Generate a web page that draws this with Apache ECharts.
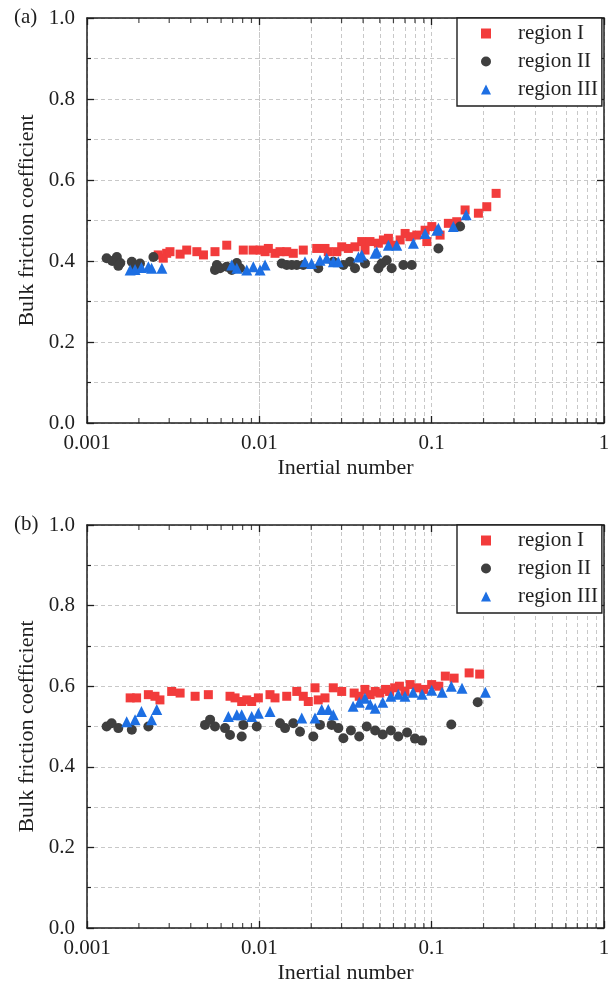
<!DOCTYPE html>
<html><head><meta charset="utf-8">
<script src="https://cdn.jsdelivr.net/npm/echarts@6/dist/echarts.min.js"></script>
<style>html,body{margin:0;padding:0;background:#fff}#c{width:613px;height:987px}</style>
</head><body><div id="c"></div>
<script>
const seriesNames = ['region I', 'region II', 'region III'];
const panelLabels = ['(a)', '(b)'];
const xTickLabels = ['0.001', '0.01', '0.1', '1'];
const yTickLabels = ['0.0', '0.2', '0.4', '0.6', '0.8', '1.0'];
const xAxisTitle = 'Inertial number';
const yAxisTitle = 'Bulk friction coefficient';

// panel (a)
const a_region1 = [[0.00259,0.415],[0.00277,0.407],[0.0029,0.419],[0.00303,0.423],[0.00347,0.417],[0.00379,0.427],[0.00434,0.423],[0.00474,0.415],[0.00553,0.423],[0.00647,0.439],[0.00807,0.427],[0.0092,0.427],
  [0.0101,0.427],[0.0108,0.423],[0.01128,0.431],[0.01233,0.419],[0.01318,0.423],[0.01442,0.423],[0.01574,0.419],[0.01799,0.427],[0.02153,0.431],[0.02405,0.431],[0.02512,0.423],[0.02812,0.423],[0.03006,0.435],[0.03286,0.431],[0.0359,0.435],[0.03926,0.448],[0.04104,0.427],[0.04385,0.448],[0.04906,0.444],[0.05247,0.452],[0.05611,0.456],[0.05998,0.439],[0.06561,0.452],[0.07015,0.468],[0.07499,0.46],[0.08198,0.464],[0.09162,0.476],[0.09374,0.448],[0.1002,0.485],[0.1119,0.464],[0.125,0.493],[0.1398,0.497],[0.1563,0.526],[0.1867,0.518],[0.2088,0.534],[0.2366,0.567]];
const a_region2 = [[0.0013,0.407],[0.0014,0.4],[0.00149,0.41],[0.00156,0.395],[0.00152,0.388],[0.00182,0.398],[0.0019,0.386],[0.00203,0.394],[0.00243,0.41],
  [0.00567,0.39],[0.00553,0.378],[0.00592,0.382],[0.00647,0.386],[0.00692,0.378],[0.0074,0.395],[0.00773,0.382],
  [0.01349,0.394],[0.01442,0.39],[0.01542,0.39],[0.01649,0.39],[0.01799,0.39],[0.02197,0.382],[0.02686,0.398],[0.03074,0.39],[0.03359,0.398],[0.0359,0.382],[0.04104,0.394],[0.04906,0.382],[0.05129,0.394],[0.05483,0.402],[0.05861,0.382],[0.06855,0.39],[0.07663,0.39],[0.1094,0.431],[0.1462,0.485]];
const a_region3 = [[0.00178,0.378],[0.0019,0.379],[0.00207,0.384],[0.00227,0.386],[0.00237,0.382],[0.00272,0.382],
  [0.00692,0.39],[0.0074,0.382],[0.00845,0.378],[0.00923,0.386],[0.0101,0.378],[0.0108,0.39],[0.0184,0.398],[0.0201,0.394],[0.0225,0.402],[0.0246,0.407],[0.0269,0.398],[0.0287,0.398],[0.0376,0.41],[0.0393,0.415],[0.0469,0.419],[0.048,0.423],[0.0561,0.439],[0.0627,0.439],[0.0783,0.444],[0.0916,0.468],[0.1072,0.476],[0.1094,0.481],[0.1336,0.485],[0.1585,0.514]];

// panel (b)
const b_region1 = [[0.00178,0.571],[0.00194,0.571],[0.00227,0.579],[0.00248,0.575],[0.00265,0.566],[0.0031,0.587],[0.00347,0.583],[0.00424,0.575],[0.00506,0.579],[0.00676,0.575],[0.00723,0.571],[0.0079,0.562],[0.00845,0.566],[0.00903,0.562],[0.00987,0.571],[0.01153,0.579],[0.01233,0.571],[0.01442,0.575],[0.01649,0.587],[0.01799,0.575],[0.01923,0.562],[0.02104,0.596],[0.02197,0.566],[0.02405,0.571],[0.02686,0.596],[0.03006,0.587],
  [0.0355,0.583],[0.038,0.575],[0.041,0.592],[0.044,0.579],[0.047,0.587],[0.05,0.583],[0.054,0.592],[0.057,0.587],[0.061,0.596],[0.065,0.6],[0.07,0.587],[0.075,0.604],[0.082,0.596],[0.09,0.592],[0.1,0.604],[0.11,0.6],[0.12,0.625],[0.135,0.62],[0.165,0.633],[0.19,0.63]];
const b_region2 = [[0.0013,0.5],[0.00139,0.508],[0.00152,0.496],[0.00182,0.492],[0.00227,0.5],[0.00484,0.504],[0.00518,0.517],[0.00553,0.5],[0.00632,0.496],[0.00676,0.479],[0.00807,0.504],[0.0079,0.475],[0.00966,0.5],[0.01318,0.508],[0.0141,0.496],[0.01574,0.508],[0.01722,0.487],[0.02056,0.475],[0.0225,0.504],[0.02629,0.504],[0.02874,0.496],[0.03074,0.471],
  [0.034,0.49],[0.038,0.475],[0.042,0.5],[0.047,0.49],[0.052,0.48],[0.058,0.49],[0.064,0.475],[0.072,0.485],[0.08,0.47],[0.088,0.465],[0.13,0.505],[0.185,0.56]];
const b_region3 = [[0.0017,0.512],[0.0019,0.517],[0.00207,0.537],[0.00237,0.517],[0.00254,0.542],[0.00661,0.525],[0.0074,0.529],[0.0079,0.529],[0.00903,0.525],[0.00987,0.533],[0.01153,0.537],[0.01762,0.521],[0.02104,0.521],[0.02301,0.542],[0.02512,0.542],[0.02686,0.529],
  [0.035,0.55],[0.038,0.56],[0.041,0.57],[0.044,0.555],[0.047,0.545],[0.052,0.56],[0.058,0.575],[0.064,0.58],[0.07,0.575],[0.078,0.585],[0.088,0.58],[0.1,0.59],[0.115,0.585],[0.13,0.6],[0.15,0.595],[0.205,0.585]];

const panels = [[a_region1, a_region2, a_region3], [b_region1, b_region2, b_region3]];

// minor tick positions on the log axis (2..9 of each decade)
const xMinorTicks = [];
[0.001, 0.01, 0.1].forEach(d => { for (let k = 2; k <= 9; k++) xMinorTicks.push(+(d * k).toPrecision(3)); });

const FONT = '"Liberation Serif", "Times New Roman", Times, serif';
const TXT = '#1e1e1e';
const GRIDLINE = { color: '#c8c8c8', width: 1, type: [4, 3] };
const colors = ['#f23b3b', '#3f3f3f', '#1d6fe3'];
const symbols = ['rect', 'circle', 'triangle'];
const sizes = [9, 10, 11];
const grids = [{ left: 87, right: 9, top: 18, height: 405 }, { left: 87, right: 9, top: 525, height: 403 }];

const xAxes = [], yAxes = [], series = [];
const axisLine = { show: true, onZero: false, lineStyle: { color: TXT, width: 1.5 } };
grids.forEach((g, gi) => {
  xAxes.push({
    type: 'log', logBase: 10, min: 0.001, max: 1, gridIndex: gi, position: 'bottom',
    name: xAxisTitle, nameLocation: 'middle', nameGap: 34,
    nameTextStyle: { fontFamily: FONT, fontSize: 22, color: TXT },
    axisLine: axisLine,
    axisTick: { inside: true, length: 7, lineStyle: { color: TXT, width: 1.3 } },
    axisLabel: { fontFamily: FONT, fontSize: 21, color: TXT, margin: 10,
      formatter: v => { const i = Math.round(Math.log10(v) + 3); return xTickLabels[i] !== undefined ? xTickLabels[i] : ''; } },
    splitLine: { show: true, lineStyle: GRIDLINE }
  });
  xAxes.push({
    type: 'log', logBase: 10, min: 0.001, max: 1, gridIndex: gi, position: 'top',
    axisLine: axisLine,
    axisTick: { inside: true, length: 7, lineStyle: { color: TXT, width: 1.3 } },
    axisLabel: { show: false }, splitLine: { show: false }
  });
  yAxes.push({
    type: 'value', min: 0, max: 1, interval: 0.2, gridIndex: gi, position: 'left',
    name: yAxisTitle, nameLocation: 'middle', nameGap: 39,
    nameTextStyle: { fontFamily: FONT, fontSize: 22, color: TXT },
    axisLine: axisLine,
    axisTick: { inside: true, length: 7, lineStyle: { color: TXT, width: 1.3 } },
    minorTick: { show: true, splitNumber: 2, length: 4, lineStyle: { color: TXT, width: 1.2 } },
    axisLabel: { fontFamily: FONT, fontSize: 21, color: TXT, margin: 12,
      formatter: v => yTickLabels[Math.round(v * 5)] },
    splitLine: { show: true, lineStyle: GRIDLINE },
    minorSplitLine: { show: true, lineStyle: GRIDLINE }
  });
  yAxes.push({
    type: 'value', min: 0, max: 1, interval: 0.2, gridIndex: gi, position: 'right',
    axisLine: axisLine,
    axisTick: { inside: true, length: 7, lineStyle: { color: TXT, width: 1.3 } },
    minorTick: { show: true, splitNumber: 2, length: 4, lineStyle: { color: TXT, width: 1.2 } },
    axisLabel: { show: false }, splitLine: { show: false }
  });
  const xi = gi * 2, yi = gi * 2;
  series.push({
    type: 'scatter', name: 'xminor-bottom', xAxisIndex: xi, yAxisIndex: yi, silent: true, clip: false,
    symbol: 'rect', symbolSize: [1.2, 5], symbolOffset: [0, -2.5],
    itemStyle: { color: TXT }, data: xMinorTicks.map(v => [v, 0]), z: 1, animation: false,
    markLine: { silent: true, z: 0, symbol: ['none', 'none'], label: { show: false }, lineStyle: GRIDLINE,
      animation: false, data: xMinorTicks.map(v => ({ xAxis: v })) }
  });
  series.push({
    type: 'scatter', name: 'xminor-top', xAxisIndex: xi, yAxisIndex: yi, silent: true, clip: false,
    symbol: 'rect', symbolSize: [1.2, 5], symbolOffset: [0, 2.5],
    itemStyle: { color: TXT }, data: xMinorTicks.map(v => [v, 1]), z: 1, animation: false
  });
  panels[gi].forEach((d, si) => {
    series.push({
      type: 'scatter', name: seriesNames[si], xAxisIndex: xi, yAxisIndex: yi,
      symbol: symbols[si], symbolSize: sizes[si], itemStyle: { color: colors[si], opacity: 1 },
      data: d, z: 3, animation: false
    });
  });
});

const legends = grids.map(g => ({
  data: seriesNames.map((n, i) => ({ name: n, icon: symbols[i] })),
  orient: 'vertical', left: 457, top: g.top, selectedMode: false, z: 10,
  backgroundColor: '#fff', borderColor: TXT, borderWidth: 1.4,
  padding: [5, 4, 6, 24], itemWidth: 10, itemHeight: 10, itemGap: 7,
  textStyle: { fontFamily: FONT, fontSize: 21, color: TXT, lineHeight: 21, padding: [0, 0, 0, 22] }
}));

const chart = echarts.init(document.getElementById('c'), null, { renderer: 'canvas' });
chart.setOption({
  backgroundColor: '#fff',
  animation: false,
  grid: grids,
  xAxis: xAxes,
  yAxis: yAxes,
  legend: legends,
  series: series,
  graphic: panelLabels.map((t, i) => ({
    type: 'text', left: 14, top: grids[i].top - 11,
    style: { text: t, fontFamily: FONT, fontSize: 21, fill: TXT }
  }))
});
</script></body></html>
